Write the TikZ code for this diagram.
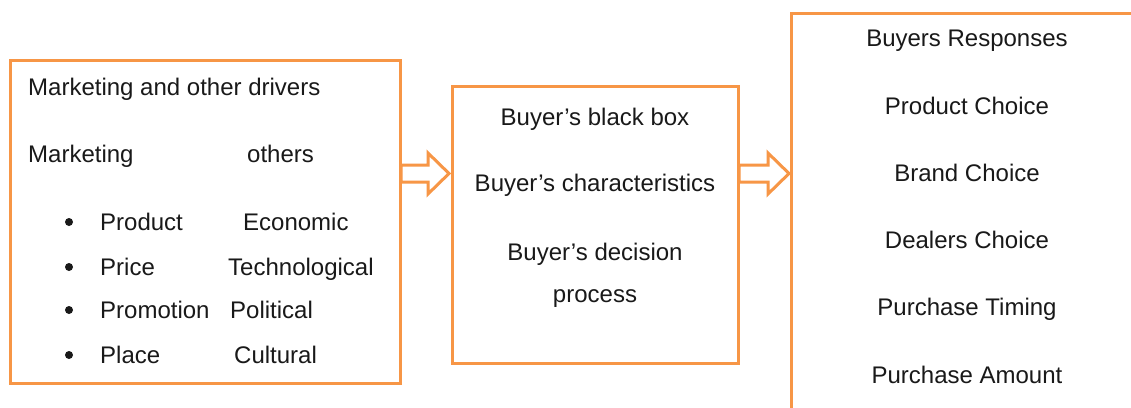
\documentclass[tikz,border=0pt]{standalone}
\usepackage{fontspec}
\setmainfont{Liberation Sans}
\definecolor{boxorange}{RGB}{247,150,70}
\definecolor{txtgray}{RGB}{25,25,25}
\tikzset{
  box/.style={draw=boxorange,line width=3pt,fill=white,inner sep=0pt},
  blockarr/.style={draw=boxorange,line width=3pt,fill=white,line join=miter},
  txt/.style={inner sep=0pt,text=txtgray,font=\fontsize{24}{28}\selectfont},
  dot/.style={circle,fill=txtgray,inner sep=0pt,minimum size=8pt},
}
\begin{document}
\begin{tikzpicture}[x=1pt,y=-1pt]
	\clip(0,0)rectangle(1131,407);
	\fill[white](0,0)rectangle(1131,407);
	% the three boxes
	\node[box,minimum width=390pt,minimum height=323pt](drv)at(205,221.5){};
	\node[box,minimum width=286pt,minimum height=277pt](blk)at(595,224.5){};
	\node[box,minimum width=354pt,minimum height=407pt](rsp)at(968,216.5){};
	% block arrows
	\draw[blockarr](401,165)--(428,165)--(428,153)--(449,173.5)--(428,194)--(428,182)--(401,182)--cycle;
	\draw[blockarr](739,165)--(768,165)--(768,153)--(789,173.5)--(768,194)--(768,182)--(739,182)--cycle;
	% left box
	\node[txt,anchor=base west](ttl)at(28,95){Marketing and other drivers};
	\node[txt,anchor=base west](mkt)at(28,162){Marketing};
	\node[txt,anchor=base west](oth)at(247,162){others};
	\foreach \y/\a/\b/\bx in {230/Product/Economic/243,275/Price/Technological/228,318/Promotion/Political/230,363/Place/Cultural/234}{
		\node[dot](b\y)at(69,\y-8){};
		\node[txt,anchor=base west](m\y)at(100,\y){\a};
		\node[txt,anchor=base west](o\y)at(\bx,\y){\b};
	}
	% middle box
	\node[txt,anchor=base](bb)at(595,125){Buyer’s black box};
	\node[txt,anchor=base](bc)at(595,191){Buyer’s characteristics};
	\node[txt,anchor=base](bd)at(595,260){Buyer’s decision};
	\node[txt,anchor=base](bp)at(595,302){process};
	% right box
	\node[txt,anchor=base](r0)at(967,46){Buyers Responses};
	\node[txt,anchor=base](r1)at(967,114){Product Choice};
	\node[txt,anchor=base](r2)at(967,181){Brand Choice};
	\node[txt,anchor=base](r3)at(967,248){Dealers Choice};
	\node[txt,anchor=base](r4)at(967,315){Purchase Timing};
	\node[txt,anchor=base](r5)at(967,383){Purchase Amount};
\end{tikzpicture}
\end{document}
